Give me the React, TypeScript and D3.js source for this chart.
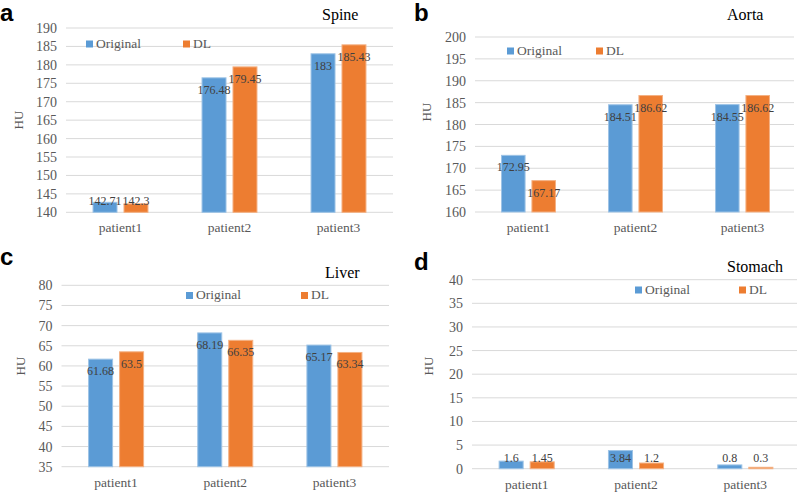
import React from "react";
import * as d3 from "d3";

const categories = ["patient1", "patient2", "patient3"];
const seriesNames = ["Original", "DL"];

const spineOriginal = [142.71, 176.48, 183];
const spineDL = [142.3, 179.45, 185.43];
const aortaOriginal = [172.95, 184.51, 184.55];
const aortaDL = [167.17, 186.62, 186.62];
const liverOriginal = [61.68, 68.19, 65.17];
const liverDL = [63.5, 66.35, 63.34];
const stomachOriginal = [1.6, 3.84, 0.8];
const stomachDL = [1.45, 1.2, 0.3];

const spineTicks = [140, 145, 150, 155, 160, 165, 170, 175, 180, 185, 190];
const aortaTicks = [160, 165, 170, 175, 180, 185, 190, 195, 200];
const liverTicks = [35, 40, 45, 50, 55, 60, 65, 70, 75, 80];
const stomachTicks = [0, 5, 10, 15, 20, 25, 30, 35, 40];

const colors = ["#5B9BD5", "#ED7D31"];
const strokeColors = ["#9DC3E6", "#F4B183"];

const SERIF = '"Liberation Serif", "Times New Roman", Times, serif';
const SANS = '"Liberation Sans", Arial, Helvetica, sans-serif';

type PanelProps = {
  letter: string;
  title: string;
  original: number[];
  dl: number[];
  ticks: number[];
  layout: {
    left: number;
    right: number;
    top: number;
    bottom: number;
    gridRight: number;
    letterX: number;
    letterY: number;
    titleX: number;
    titleY: number;
    huX: number;
    huY: number;
    legX: number;
    legX2: number;
    legY: number;
  };
};

const serif = (size: number, fill: string) => ({ fontFamily: SERIF, fontSize: size, fill });

function Panel({ letter, title, original, dl, ticks, layout }: PanelProps) {
  const L = layout;
  const y = d3
    .scaleLinear()
    .domain([ticks[0], ticks[ticks.length - 1]])
    .range([L.bottom, L.top]);
  const x0 = d3.scaleBand().domain(categories).range([L.left, L.right]).padding(0);
  const step = x0.bandwidth();
  const barW = step * 0.22;
  const gap = step * 0.064;
  const x1 = d3
    .scaleBand()
    .domain(seriesNames)
    .range([step / 2 - barW - gap / 2, step / 2 + barW + gap / 2])
    .paddingInner(gap / (barW + gap))
    .paddingOuter(0);
  const series = [original, dl];
  const base = y(ticks[0]);

  return (
    <g>
      <text
        x={L.letterX}
        y={L.letterY}
        style={{ fontFamily: SANS, fontWeight: "bold", fontSize: 24, fill: "#000" }}
      >
        {letter}
      </text>
      <text x={L.titleX} y={L.titleY} style={serif(16, "#000")}>
        {title}
      </text>
      {ticks.map((t) => (
        <g key={t}>
          <line x1={L.left} x2={L.gridRight} y1={y(t)} y2={y(t)} stroke="#D9D9D9" strokeWidth={1} />
          <text x={L.left - 9} y={y(t) + 5} textAnchor="end" style={serif(14, "#595959")}>
            {t}
          </text>
        </g>
      ))}
      <text
        transform={`translate(${L.huX},${L.huY}) rotate(-90)`}
        textAnchor="middle"
        dominantBaseline="middle"
        style={serif(13, "#595959")}
      >
        HU
      </text>
      {categories.map((c, i) => (
        <g key={c} transform={`translate(${x0(c)},0)`}>
          {seriesNames.map((s, k) => {
            const v = series[k][i];
            const top = y(v);
            const bx = x1(s) as number;
            const bw = x1.bandwidth();
            const labelCenter = Math.min(top + 12, base - 11);
            return (
              <g key={s}>
                <rect
                  x={bx}
                  y={top}
                  width={bw}
                  height={base - top}
                  fill={colors[k]}
                  stroke={strokeColors[k]}
                  strokeWidth={1}
                />
                <text
                  x={bx + bw / 2}
                  y={labelCenter + 4}
                  textAnchor="middle"
                  style={serif(12, "#404040")}
                >
                  {v}
                </text>
              </g>
            );
          })}
          <text x={step / 2} y={base + 20} textAnchor="middle" style={serif(13.5, "#595959")}>
            {c}
          </text>
        </g>
      ))}
      {seriesNames.map((s, k) => {
        const lx = k === 0 ? L.legX : L.legX2;
        return (
          <g key={s}>
            <rect x={lx} y={L.legY - 7} width={7} height={7} fill={colors[k]} />
            <text x={lx + 10} y={L.legY} style={serif(13.5, "#595959")}>
              {s}
            </text>
          </g>
        );
      })}
    </g>
  );
}

export default function App() {
  return (
    <svg
      width={800}
      height={492}
      style={{ position: "absolute", left: 0, top: 0, background: "#fff" }}
    >
      <rect x={0} y={0} width={800} height={492} fill="#fff" />
      <Panel
        letter="a"
        title="Spine"
        original={spineOriginal}
        dl={spineDL}
        ticks={spineTicks}
        layout={{
          left: 66, right: 393, top: 28, bottom: 212.3, gridRight: 393,
          letterX: 0, letterY: 21, titleX: 322, titleY: 20,
          huX: 20, huY: 120, legX: 86, legX2: 183, legY: 47.5,
        }}
      />
      <Panel
        letter="b"
        title="Aorta"
        original={aortaOriginal}
        dl={aortaDL}
        ticks={aortaTicks}
        layout={{
          left: 475, right: 796, top: 37, bottom: 212, gridRight: 794,
          letterX: 414, letterY: 21, titleX: 727, titleY: 20,
          huX: 428, huY: 112, legX: 507, legX2: 596, legY: 54.5,
        }}
      />
      <Panel
        letter="c"
        title="Liver"
        original={liverOriginal}
        dl={liverDL}
        ticks={liverTicks}
        layout={{
          left: 61.5, right: 389, top: 285.3, bottom: 466.7, gridRight: 389,
          letterX: 0, letterY: 265, titleX: 325, titleY: 277.5,
          huX: 22, huY: 366, legX: 186, legX2: 301, legY: 299,
        }}
      />
      <Panel
        letter="d"
        title="Stomach"
        original={stomachOriginal}
        dl={stomachDL}
        ticks={stomachTicks}
        layout={{
          left: 472, right: 800, top: 279.7, bottom: 468.7, gridRight: 797,
          letterX: 414, letterY: 270, titleX: 727, titleY: 271.5,
          huX: 430, huY: 366, legX: 635, legX2: 739, legY: 293.5,
        }}
      />
    </svg>
  );
}
